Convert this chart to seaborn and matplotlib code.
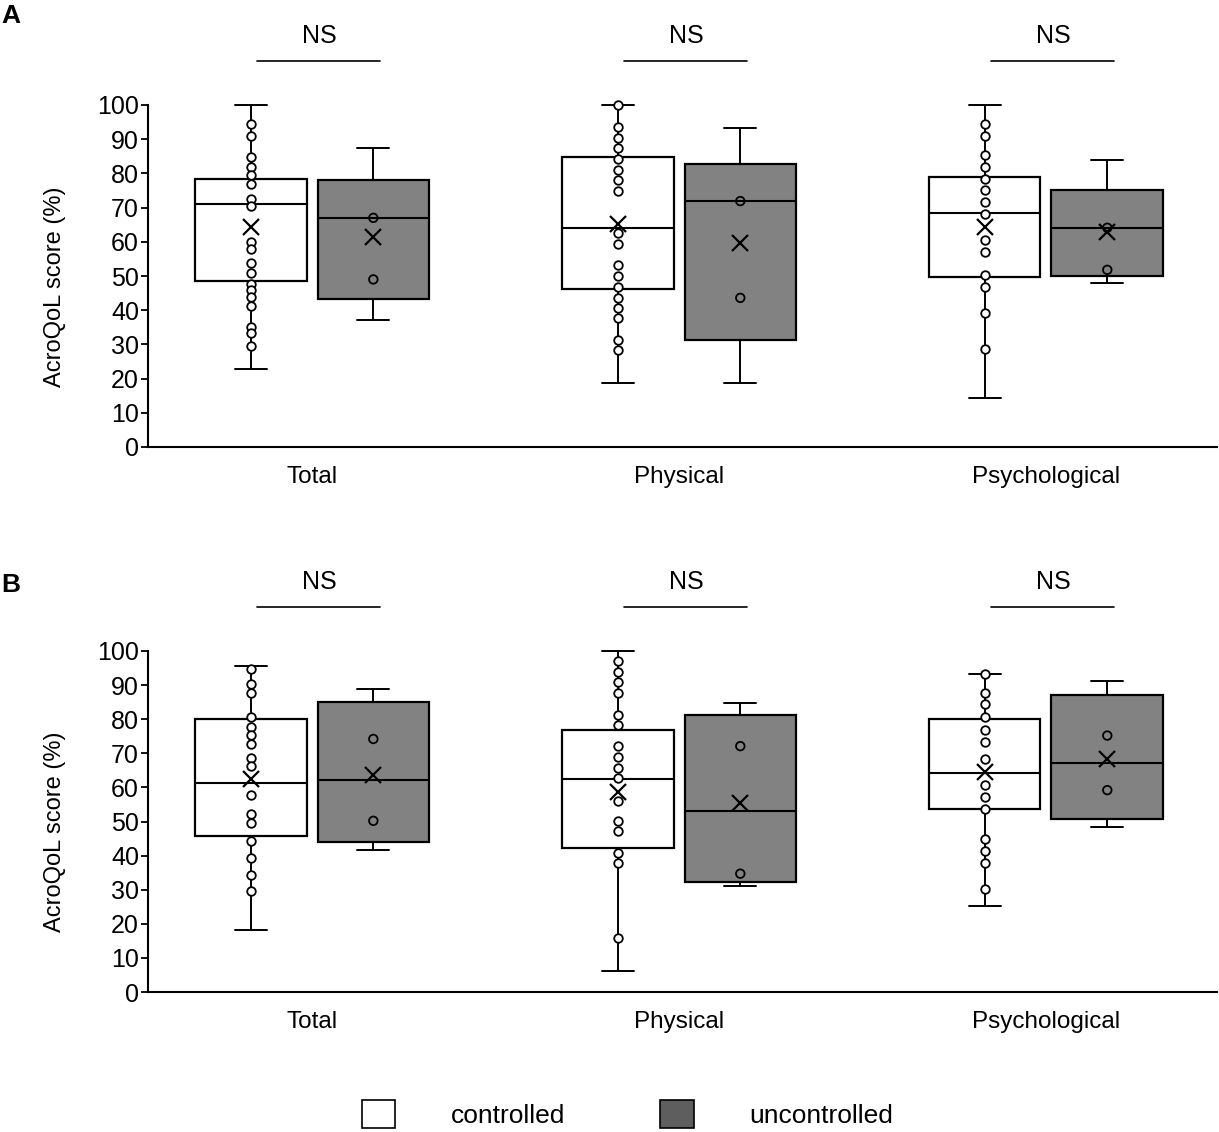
import numpy as np
import pandas as pd
import matplotlib
matplotlib.use("Agg")
import matplotlib.pyplot as plt
import seaborn as sns
from matplotlib.patches import Patch

categories = ["Total", "Physical", "Psychological"]
groups = ["controlled", "uncontrolled"]

# ---------------- Panel A : box statistics ----------------
a_ctrl_lo = [22.7, 18.6, 14.2]
a_ctrl_q1 = [48.6, 46.1, 49.6]
a_ctrl_med = [71.0, 64.1, 68.5]
a_ctrl_q3 = [78.5, 84.9, 78.9]
a_ctrl_hi = [100.0, 100.0, 100.0]
a_ctrl_mean = [64.4, 65.2, 64.2]

a_unc_lo = [37.1, 18.6, 48.0]
a_unc_q1 = [43.2, 31.3, 50.1]
a_unc_med = [67.0, 71.9, 64.1]
a_unc_q3 = [78.0, 82.8, 75.1]
a_unc_hi = [87.3, 93.4, 83.8]
a_unc_mean = [61.3, 59.7, 63.0]

# Panel A : individual points
a_ctrl_total = [94.3, 91.0, 84.9, 82.0, 79.4, 76.9, 72.6, 70.5, 60.0, 58.0,
                53.7, 51.0, 47.7, 45.9, 43.8, 41.2, 35.2, 33.2, 29.5]
a_ctrl_phys = [100.0, 93.5, 90.4, 87.3, 84.3, 81.0, 78.1, 74.9, 62.7, 59.4,
               53.2, 50.1, 46.9, 43.7, 40.5, 37.6, 31.3, 28.4]
a_ctrl_psych = [94.3, 91.0, 85.5, 81.9, 78.4, 75.1, 71.6, 68.1, 60.5, 57.0,
                50.2, 46.7, 39.3, 28.7]
a_unc_total = [67.0, 49.0]
a_unc_phys = [71.9, 43.6]
a_unc_psych = [64.1, 51.8]

# ---------------- Panel B : box statistics ----------------
b_ctrl_lo = [18.3, 6.2, 25.2]
b_ctrl_q1 = [45.7, 42.1, 53.7]
b_ctrl_med = [61.2, 62.6, 64.1]
b_ctrl_q3 = [80.1, 76.8, 80.1]
b_ctrl_hi = [95.7, 100.0, 93.3]
b_ctrl_mean = [62.6, 58.7, 64.6]

b_unc_lo = [41.6, 31.2, 48.3]
b_unc_q1 = [43.9, 32.2, 50.7]
b_unc_med = [62.2, 53.2, 67.2]
b_unc_q3 = [85.0, 81.1, 87.1]
b_unc_hi = [88.8, 84.7, 91.1]
b_unc_mean = [63.6, 55.5, 68.2]

# Panel B : individual points
b_ctrl_total = [94.6, 90.2, 87.8, 80.7, 77.8, 75.3, 72.7, 68.5, 66.3, 57.8,
                52.2, 49.5, 44.3, 39.2, 34.2, 29.7]
b_ctrl_phys = [97.2, 93.9, 90.8, 87.8, 81.2, 78.2, 72.1, 68.8, 65.7, 62.9,
               56.1, 50.2, 47.3, 40.9, 37.9, 15.7]
b_ctrl_psych = [93.3, 87.7, 84.4, 80.5, 76.7, 73.3, 68.3, 60.8, 57.3, 53.8,
                44.8, 41.3, 37.7, 30.2]
b_unc_total = [74.2, 50.2]
b_unc_phys = [72.1, 34.7]
b_unc_psych = [75.2, 59.2]

sig_labels = ["NS", "NS", "NS"]
y_ticks = list(range(0, 101, 10))

# ---------------- styling ----------------
sns.set_style("white")
plt.rcParams["font.family"] = ["Liberation Sans", "DejaVu Sans"]
for key in ["text.color", "axes.labelcolor", "xtick.color", "ytick.color"]:
    plt.rcParams[key] = "black"

BOX_FILL = {"controlled": "white", "uncontrolled": "#828282"}
OFFSET = {"controlled": -0.167, "uncontrolled": 0.167}
BOX_W = 0.304
CAP_W = 0.087


def make_stats(lo, q1, med, q3, hi, mean):
    return [dict(whislo=lo[i], q1=q1[i], med=med[i], q3=q3[i], whishi=hi[i],
                 mean=mean[i], fliers=[]) for i in range(len(categories))]


def points_frame(lists, group):
    rows = []
    for i, vals in enumerate(lists):
        for v in vals:
            rows.append({"cat": i, "x": i + OFFSET[group], "score": v, "group": group})
    return pd.DataFrame(rows)


def draw_panel(ax, stats_by_group, pts_by_group):
    for g in groups:
        pos = np.arange(len(categories)) + OFFSET[g]
        res = ax.bxp(stats_by_group[g], positions=pos, widths=BOX_W,
                     capwidths=CAP_W, patch_artist=True, showmeans=True,
                     showfliers=False, manage_ticks=False,
                     boxprops=dict(facecolor=BOX_FILL[g], edgecolor="black", linewidth=1.6),
                     whiskerprops=dict(color="black", linewidth=1.4),
                     capprops=dict(color="black", linewidth=1.4),
                     medianprops=dict(color="black", linewidth=1.5),
                     meanprops=dict(marker="x", markeredgecolor="black",
                                    markerfacecolor="black", markersize=11.5,
                                    markeredgewidth=1.6),
                     zorder=2)
        for key, arts in res.items():
            for a in arts:
                a.set_clip_on(False)
        for m in res["means"]:
            m.set_zorder(5)
    for g in groups:
        df = pts_by_group[g]
        sns.scatterplot(data=df, x="x", y="score", ax=ax, marker="o", s=38,
                        facecolor="white" if g == "controlled" else "none",
                        edgecolor="black", linewidth=1.3, zorder=3,
                        legend=False, clip_on=False)

    ax.set_xlim(-0.447, 2.466)
    ax.set_ylim(0, 100)
    ax.set_yticks(y_ticks)
    ax.set_xticks(np.arange(len(categories)))
    ax.set_xticklabels(categories)
    ax.set_xlabel("")
    ax.set_ylabel("AcroQoL score (%)", fontsize=17)
    ax.yaxis.set_label_coords(-0.077, 0.47)
    ax.tick_params(axis="y", direction="out", length=5, width=1.3, pad=1.5,
                   labelsize=18, left=True, color="black")
    ax.tick_params(axis="x", length=0, pad=14, labelsize=17.5)
    for s in ["top", "right"]:
        ax.spines[s].set_visible(False)
    for s in ["left", "bottom"]:
        ax.spines[s].set_color("black")
        ax.spines[s].set_linewidth(1.5)

    # significance brackets
    for i, lab in enumerate(sig_labels):
        ax.plot([i - 0.15, i + 0.185], [113, 113], color="black", lw=1.2,
                clip_on=False)
        ax.text(i + 0.02, 120.3, lab, ha="center", va="center", fontsize=18,
                clip_on=False)


fig = plt.figure(figsize=(12.19, 11.32), dpi=100)
axA = fig.add_axes([148 / 1219, 1 - 447 / 1132, 1069 / 1219, 342 / 1132])
axB = fig.add_axes([148 / 1219, 1 - 992 / 1132, 1069 / 1219, 341 / 1132])

statsA = {"controlled": make_stats(a_ctrl_lo, a_ctrl_q1, a_ctrl_med, a_ctrl_q3, a_ctrl_hi, a_ctrl_mean),
          "uncontrolled": make_stats(a_unc_lo, a_unc_q1, a_unc_med, a_unc_q3, a_unc_hi, a_unc_mean)}
ptsA = {"controlled": points_frame([a_ctrl_total, a_ctrl_phys, a_ctrl_psych], "controlled"),
        "uncontrolled": points_frame([a_unc_total, a_unc_phys, a_unc_psych], "uncontrolled")}
statsB = {"controlled": make_stats(b_ctrl_lo, b_ctrl_q1, b_ctrl_med, b_ctrl_q3, b_ctrl_hi, b_ctrl_mean),
          "uncontrolled": make_stats(b_unc_lo, b_unc_q1, b_unc_med, b_unc_q3, b_unc_hi, b_unc_mean)}
ptsB = {"controlled": points_frame([b_ctrl_total, b_ctrl_phys, b_ctrl_psych], "controlled"),
        "uncontrolled": points_frame([b_unc_total, b_unc_phys, b_unc_psych], "uncontrolled")}

draw_panel(axA, statsA, ptsA)
draw_panel(axB, statsB, ptsB)

fig.text(0.001, 1 - 16 / 1132, "A", fontsize=19, fontweight="bold", ha="left", va="center")
fig.text(0.001, 1 - 585 / 1132, "B", fontsize=19, fontweight="bold", ha="left", va="center")

handles = [Patch(facecolor="white", edgecolor="black", linewidth=1.2),
           Patch(facecolor="#5e5e5e", edgecolor="black", linewidth=1.2)]
fig.legend(handles=handles, labels=groups, loc="center",
           bbox_to_anchor=(627.5 / 1219, 1 - 1114 / 1132), ncol=2, frameon=False,
           fontsize=19, handlelength=1.27, handleheight=1.27, handletextpad=2.1,
           columnspacing=3.6)

fig.savefig("out.png", dpi=100)
